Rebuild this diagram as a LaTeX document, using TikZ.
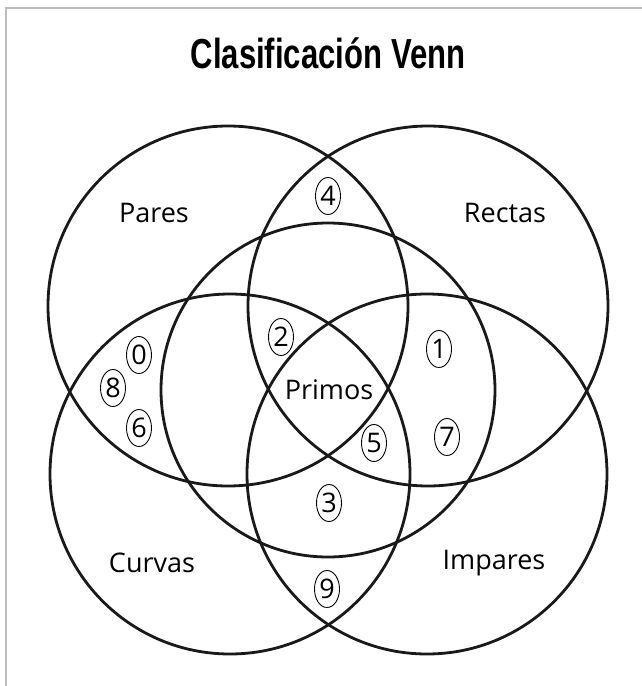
\documentclass[tikz,border=0pt]{standalone}
\usepackage{graphicx}
\usepackage{fontspec}
\setmainfont{Open Sans}
\newfontfamily\titlefont{Liberation Sans}
\usetikzlibrary{shapes.geometric}
\definecolor{framecol}{HTML}{BDBDBD}

\begin{document}
\begin{tikzpicture}[x=1pt,y=-1pt,font=\fontsize{27}{30}\selectfont,
  ring/.style={line width=2.8pt, black!90},
  numtag/.style={draw, ellipse, line width=0.9pt, minimum width=25pt, minimum height=37pt,
    inner sep=0pt, font=\fontsize{27}{28}\selectfont}]
\useasboundingbox (0,0) rectangle (641,686);
% page frame (only top and left edge visible)
\draw[framecol, line width=2pt] (6,700) -- (6,8) -- (660,8);
\node (title) at (328,53) {\titlefont\bfseries\fontsize{42}{44}\selectfont\scalebox{0.74}[1]{Clasificación Venn}};

% four outer sets and the central one
\coordinate (pares) at (228,306);
\coordinate (rectas) at (428,306);
\coordinate (curvas) at (230,474);
\coordinate (impares) at (427,474);
\coordinate (primos) at (328,390);
\foreach \c in {pares,rectas,curvas,impares}{
  \draw[ring] (\c) circle[radius=180];
}
\draw[ring] (primos) circle[radius=167];

% set names
\node (lpares) at (154,213) {Pares};
\node (lrectas) at (505,213) {Rectas};
\node (lcurvas) at (152,563) {Curvas};
\node (limpares) at (494,563) {Impares};
\node (lprimos) at (329,390) {Primos};

% digits
\foreach \d/\x/\y in {4/328/196, 2/281/337, 1/439/349, 0/139/355, 8/113/388,
  6/139/428, 5/374/443, 7/447/437, 3/329/503, 9/327/589}{
  \node[numtag] (n\d) at (\x,\y) {\d};
}
\end{tikzpicture}
\end{document}
